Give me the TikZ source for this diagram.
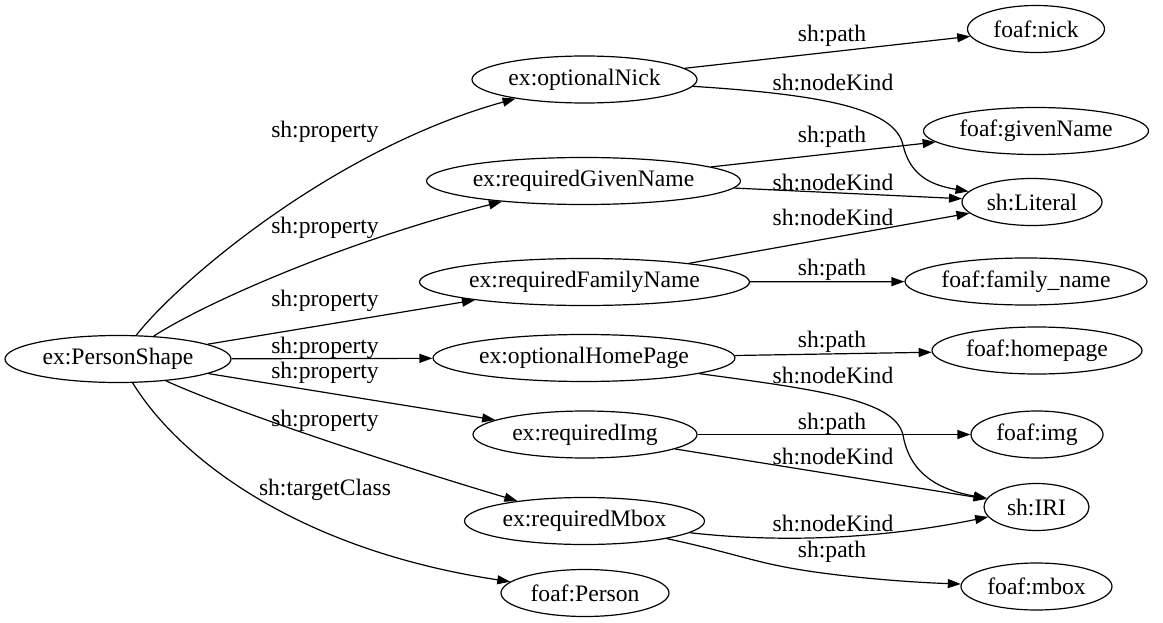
\documentclass[tikz,border=0pt]{standalone}
\usepackage{fontspec}
\setmainfont{Liberation Serif}
\usetikzlibrary{shapes.geometric,arrows.meta}
\begin{document}
\begin{tikzpicture}[x=1pt,y=-1pt,
  nd/.style={draw, ellipse, inner sep=0pt, line width=1.2pt, font=\fontsize{23.6}{28}\selectfont, minimum height=47pt},
  lbl/.style={inner sep=0pt, font=\fontsize{23.6}{28}\selectfont},
  edge/.style={line width=1.2pt, -{Triangle[length=13pt,width=9pt]}}]
\useasboundingbox[fill=white] (0,0) rectangle (1163,623);
% nodes
\node[nd,minimum width=226pt] (ps) at (118,359) {ex:PersonShape};
\node[nd,minimum width=225pt] (on) at (584.5,79.5) {ex:optionalNick};
\node[nd,minimum width=314pt] (rgn) at (583.5,181) {ex:requiredGivenName};
\node[nd,minimum width=330pt] (rfn) at (584.5,282) {ex:requiredFamilyName};
\node[nd,minimum width=302pt] (ohp) at (584,358) {ex:optionalHomePage};
\node[nd,minimum width=224pt] (ri) at (585,434.5) {ex:requiredImg};
\node[nd,minimum width=240pt] (rm) at (584.5,521) {ex:requiredMbox};
\node[nd,minimum width=168pt] (fp) at (585,593) {foaf:Person};
\node[nd,minimum width=137pt] (fn) at (1036,29) {foaf:nick};
\node[nd,minimum width=225pt] (fgn) at (1036,131) {foaf:givenName};
\node[nd,minimum width=140pt] (lit) at (1032,202) {sh:Literal};
\node[nd,minimum width=242pt] (ffn) at (1026,281.5) {foaf:family\_name};
\node[nd,minimum width=210pt] (fhp) at (1037,350.5) {foaf:homepage};
\node[nd,minimum width=132pt] (fimg) at (1037,434.5) {foaf:img};
\node[nd,minimum width=105pt] (iri) at (1036.5,507) {sh:IRI};
\node[nd,minimum width=151pt] (fmb) at (1036.5,586.5) {foaf:mbox};
% edges from ex:PersonShape
\draw[edge] (ps) .. controls (175,285) and (330,150) .. (on);
\draw[edge] (ps) .. controls (210,300) and (350,240) .. (rgn);
\draw[edge] (ps) -- (rfn);
\draw[edge] (ps) -- (ohp);
\draw[edge] (ps) -- (ri);
\draw[edge] (ps) .. controls (230,410) and (380,460) .. (rm);
\draw[edge] (ps) .. controls (180,460) and (300,550) .. (fp);
% right-hand edges
\draw[edge] (on) -- (fn);
\draw[edge] (on) .. controls (830,95) and (895,110) .. (903,145) .. controls (910,175) and (930,185) .. (lit);
\draw[edge] (rgn) -- (fgn);
\draw[edge] (rgn) -- (lit);
\draw[edge] (rfn) -- (lit);
\draw[edge] (rfn) -- (ffn);
\draw[edge] (ohp) -- (fhp);
\draw[edge] (ohp) .. controls (820,390) and (895,400) .. (903,435) .. controls (910,475) and (940,490) .. (iri);
\draw[edge] (ri) -- (fimg);
\draw[edge] (ri) -- (iri);
\draw[edge] (rm) .. controls (800,545) and (900,535) .. (iri);
\draw[edge] (rm) .. controls (720,550) and (750,560) .. (775,565) .. controls (820,575) and (900,582) .. (fmb);
% edge labels
\node[lbl] (l1) at (325,132) {sh:property};
\node[lbl] (l2) at (325,228) {sh:property};
\node[lbl] (l3) at (325,301) {sh:property};
\node[lbl] (l4) at (325,348) {sh:property};
\node[lbl] (l5) at (325,373) {sh:property};
\node[lbl] (l6) at (325,421) {sh:property};
\node[lbl] (l7) at (325,490) {sh:targetClass};
\node[lbl] (r1) at (832,36) {sh:path};
\node[lbl] (r2) at (833,82) {sh:nodeKind};
\node[lbl] (r3) at (832,137) {sh:path};
\node[lbl] (r4) at (833,182) {sh:nodeKind};
\node[lbl] (r5) at (833,217) {sh:nodeKind};
\node[lbl] (r6) at (832,270) {sh:path};
\node[lbl] (r7) at (832,342) {sh:path};
\node[lbl] (r8) at (833,375) {sh:nodeKind};
\node[lbl] (r9) at (832,424) {sh:path};
\node[lbl] (r10) at (833,456) {sh:nodeKind};
\node[lbl] (r11) at (833,523) {sh:nodeKind};
\node[lbl] (r12) at (832,552) {sh:path};
\end{tikzpicture}
\end{document}
